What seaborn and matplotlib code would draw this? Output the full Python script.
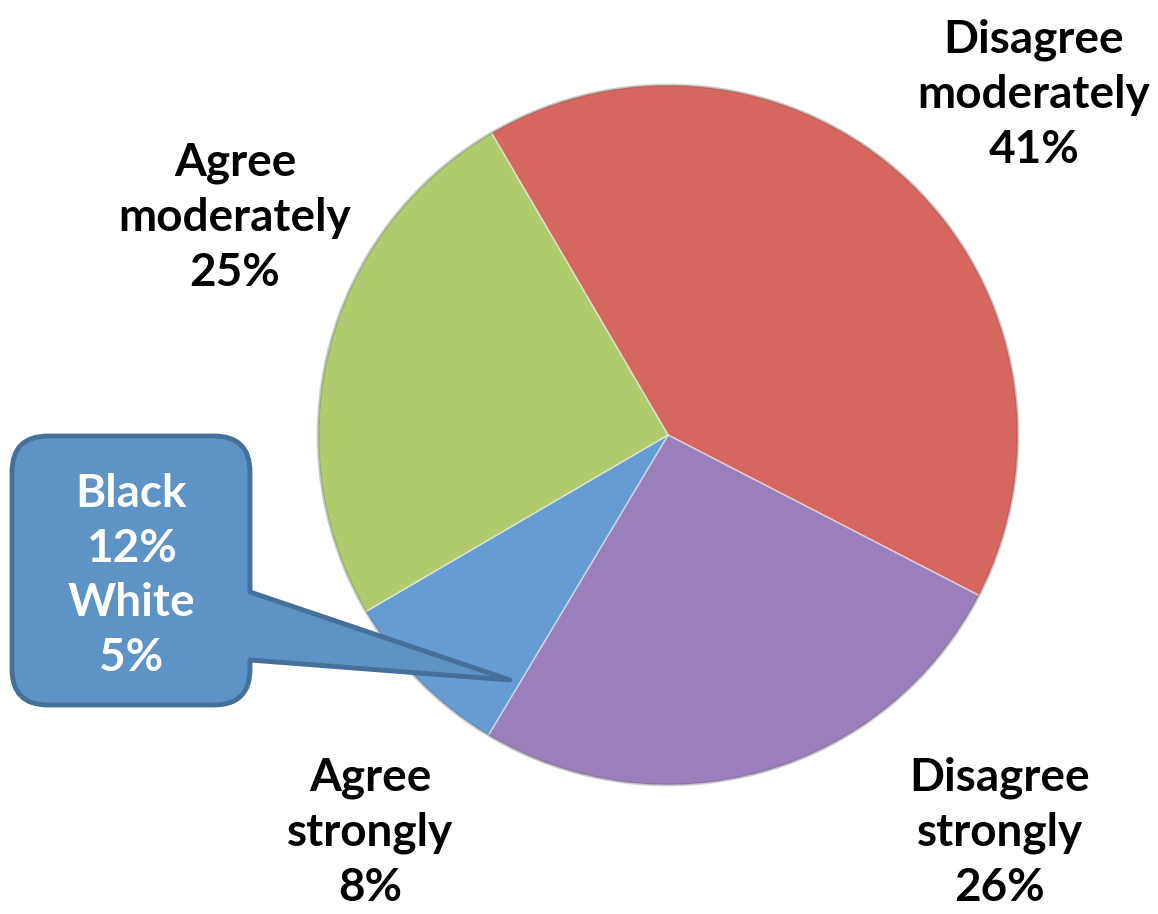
import matplotlib
matplotlib.use("Agg")
import matplotlib.pyplot as plt
import seaborn as sns
import numpy as np
from matplotlib.path import Path
from matplotlib.patches import PathPatch

sns.set_theme(style="white")
plt.rcParams['font.family'] = ['Lato', 'DejaVu Sans']

categories = ["Disagree\nmoderately", "Disagree\nstrongly", "Agree\nstrongly", "Agree\nmoderately"]
values = [41, 26, 8, 25]
colors = ["#D5675F", "#9B7FBB", "#659CD3", "#AFCB6E"]
callout_lines = ["Black", "12%", "White", "5%"]

W, H = 1158, 914
CX, CY, R = 668, 435, 350

fig = plt.figure(figsize=(W / 100, H / 100), dpi=100)
ax = fig.add_axes([0, 0, 1, 1])

def d(px, py):
    return ((px - CX) / R, (CY - py) / R)

wedges, _ = ax.pie(values, colors=colors, startangle=120.3, counterclock=False,
                   radius=1.0, center=(0, 0), frame=True,
                   wedgeprops=dict(edgecolor="#ffffff70", linewidth=1.2))
ax.set_xlim((0 - CX) / R, (W - CX) / R)
ax.set_ylim((CY - H) / R, (CY - 0) / R)
ax.set_aspect("auto")
ax.axis("off")

# subtle darker rim
ax.add_patch(plt.Circle((0, 0), 1.0, fill=False, edgecolor="#00000030", linewidth=2))

label_pos = [(1034, 95), (1000, 833), (370, 833), (235, 218)]
for cat, v, (px, py) in zip(categories, values, label_pos):
    x, y = d(px, py)
    ax.text(x, y, f"{cat}\n{v}%", ha="center", va="center", fontsize=33,
            fontweight="bold", color="black", linespacing=1.38)

# callout shape
x0, x1, y0, y1, r = 12, 250, 436, 705, 36
tip = (510, 680)
pa, pb = 592, 660
pts = [
    ((x0 + r, y0), Path.MOVETO),
    ((x1 - r, y0), Path.LINETO),
    ((x1, y0), Path.CURVE3), ((x1, y0 + r), Path.CURVE3),
    ((x1, pa), Path.LINETO),
    (tip, Path.LINETO),
    ((x1, pb), Path.LINETO),
    ((x1, y1 - r), Path.LINETO),
    ((x1, y1), Path.CURVE3), ((x1 - r, y1), Path.CURVE3),
    ((x0 + r, y1), Path.LINETO),
    ((x0, y1), Path.CURVE3), ((x0, y1 - r), Path.CURVE3),
    ((x0, y0 + r), Path.LINETO),
    ((x0, y0), Path.CURVE3), ((x0 + r, y0), Path.CURVE3),
    ((x0 + r, y0), Path.CLOSEPOLY),
]
verts = [d(*p) for p, _ in pts]
codes = [c for _, c in pts]
ax.add_patch(PathPatch(Path(verts, codes), facecolor="#5E93C5", edgecolor="#45709A",
                       linewidth=3.5, joinstyle="round", zorder=5))
tx, ty = d(131, 576)
ax.text(tx, ty, "\n".join(callout_lines), ha="center", va="center", fontsize=33,
        fontweight="bold", color="white", linespacing=1.38, zorder=6)

fig.savefig("out.png", dpi=100, facecolor="white")
